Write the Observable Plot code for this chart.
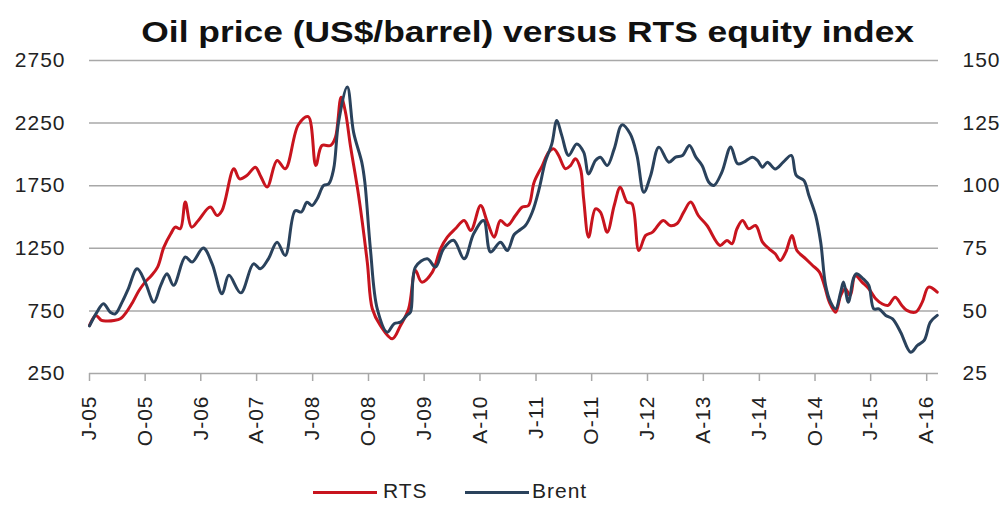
<!DOCTYPE html>
<html>
<head>
<meta charset="utf-8">
<script src="https://cdn.jsdelivr.net/npm/d3@7"></script>
<script src="https://cdn.jsdelivr.net/npm/@observablehq/plot@0.6"></script>
<style>
  body { margin: 0; background: #fff; width: 1004px; font-family: "Liberation Sans", Arial, sans-serif; position: relative; }
  #spacer { height: 38px; }
  #title { position: absolute; left: 52px; top: 11px; width: 952px; line-height: 43px; text-align: center; white-space: nowrap; }
  #title span { display: inline-block; font-weight: bold; font-size: 29px; color: #111; transform: scaleX(1.22); transform-origin: center; }
  #legend { position: relative; height: 56px; font-size: 21px; color: #222; letter-spacing: 1px; }
  .sw { position: absolute; top: 41px; width: 64px; height: 3px; }
  .lb { position: absolute; top: 29px; line-height: 24px; }
</style>
</head>
<body>
<div id="spacer"></div>
<div id="chart"></div>
<div id="legend">
  <div class="sw" style="left:313px;background:#c8141e"></div><div class="lb" style="left:383px">RTS</div>
  <div class="sw" style="left:465px;background:#2a425c"></div><div class="lb" style="left:532px">Brent</div>
</div>
<div id="title"><span>Oil price (US$/barrel) versus RTS equity index</span></div>
<script>
// Months since January 2005 and values
const rtsMonth = [0,1,2,3,4,5,6,7,8,9,10,11,12,13.1,13.9,14.7,15.5,16.5,17.6,19.5,20.6,21.4,23.3,24.2,25.4,26.8,27.6,28.7,30.3,31.6,33.7,35.3,36.5,37.5,38.9,39.7,40.6,41.3,42.1,43.4,44.8,45.6,46.9,48.8,50.2,51.5,52.6,53.6,55.3,56.6,57.7,59.0,60.4,61.5,63.1,64.2,65.3,66.3,67.4,68.7,69.8,70.8,71.7,73.0,74.1,74.9,75.7,76.8,77.6,78.4,79.2,79.7,80.5,81.6,82.4,83.5,84.6,85.6,86.7,87.5,88.6,89.7,90.8,92.5,93.6,94.7,95.8,96.9,98.2,99.6,101.7,102.8,103.6,104.4,105.3,106.3,107.4,108.5,109.6,110.6,111.4,112.3,113.3,114.1,115.5,116.6,117.7,118.5,119.3,120.3,121.1,121.9,122.7,123.5,124.6,125.7,126.8,127.8,128.8,129.9,131.0,131.8,133.2,134.3,135.3,136.7];
const rtsValue = [634,714,674,670,674,687,740,820,913,980,1033,1100,1259,1366,1419,1406,1619,1419,1472,1579,1512,1552,1885,1805,1832,1898,1832,1739,1952,1885,2237,2301,1911,2071,2071,2137,2457,2337,2071,1672,1140,767,634,527,634,767,1073,980,1060,1246,1339,1406,1472,1392,1592,1459,1339,1472,1432,1512,1579,1592,1778,1911,2018,2044,1991,1885,1911,1965,1885,1645,1339,1565,1539,1379,1592,1738,1619,1605,1233,1353,1379,1472,1432,1446,1539,1619,1512,1432,1273,1313,1286,1406,1472,1406,1432,1299,1246,1206,1153,1219,1353,1233,1166,1113,1060,953,820,740,873,927,873,1033,980,927,847,807,794,860,794,754,740,820,940,900];

const brentMonth = [0,1.2,2.3,3.4,4.2,5.3,6.3,7.7,9.0,10.4,11.5,12.5,13.6,15.5,16.6,18.4,19.8,21.4,22.5,24.4,26.5,27.6,28.9,30.3,31.6,33.2,34.2,35.1,35.9,36.7,37.8,38.6,39.4,40.2,41.6,42.6,43.9,44.4,45.3,46.4,48.0,49.1,50.2,51.2,51.8,52.6,54.5,55.8,57.1,58.7,60.4,62.0,63.6,64.7,66.3,67.4,68.5,69.5,70.3,71.4,72.5,73.5,74.6,75.4,76.2,77.3,78.6,79.7,80.5,81.6,82.4,83.5,84.6,85.9,87.2,88.3,89.4,90.5,91.8,93.4,94.5,95.6,96.7,97.8,98.8,99.9,100.7,102.0,103.4,104.5,105.5,106.9,107.7,108.5,109.3,110.6,111.9,113.2,114.0,115.2,116.0,117.1,117.9,118.7,119.5,120.3,121.1,121.6,122.4,123.2,123.7,124.8,125.7,126.5,127.3,128.4,129.5,130.8,132.4,133.5,134.6,135.6,136.7];
const brentValue = [44,49.5,52.9,49.5,48.8,53.5,58.8,66.8,61.5,53.5,60.2,64.8,60.2,71.5,69.5,75.1,68.8,56.8,64.2,57.2,68.8,66.8,70.8,77.4,72.1,90,89.5,93.4,92.1,94.7,100.1,100.7,106.7,125.4,139.4,121.4,109.4,101.4,74.8,50.8,41.5,44.9,45.5,48.2,49.5,67.5,70.8,67.5,74.8,78.2,70.8,80.8,86.1,73.5,77.4,74.1,80.5,82.5,84.1,89.4,98.8,109.4,116.7,126.0,120.1,112.1,116.7,113.4,104.7,110.1,111.4,108.1,114.7,124.3,120.7,112.1,97.4,104.1,115.4,109.4,111.4,112.1,116.1,111.4,108.1,101.4,100.1,105.4,115.5,108.8,109.4,111.4,110.1,107.4,109.4,106.7,109.4,112.1,104.1,102.1,96.1,88.1,77.4,60.2,53.5,50.8,57.5,61.5,53.5,62.8,64.8,62.8,60.2,50.8,50.8,48.2,46.8,41.5,33.5,36.2,38.2,45.5,48.2];

const rtsTicks = [250, 750, 1250, 1750, 2250, 2750];
const brentTicks = [25, 50, 75, 100, 125, 150];
const xTickMonths = ["2005-01","2005-10","2006-07","2007-04","2008-01","2008-10","2009-07","2010-04","2011-01","2011-10","2012-07","2013-04","2014-01","2014-10","2015-07","2016-04"];
const xTickLabels = ["J-05","O-05","J-06","A-07","J-08","O-08","J-09","A-10","J-11","O-11","J-12","A-13","J-14","O-14","J-15","A-16"];

const base = new Date(Date.UTC(2005, 0, 1));
function toDate(m) {
  const f = Math.floor(m);
  const a = d3.utcMonth.offset(base, f);
  const b = d3.utcMonth.offset(base, f + 1);
  return new Date(+a + (m - f) * (b - a));
}
// Brent (right axis 25..150) mapped onto the RTS scale (left axis 250..2750)
const b2r = v => 250 + (v - 25) * (2500 / 125);

const rts = rtsMonth.map((m, i) => ({date: toDate(m), value: rtsValue[i]}));
const brent = brentMonth.map((m, i) => ({date: toDate(m), value: brentValue[i]}));
const tickDates = xTickMonths.map(s => d3.utcParse("%Y-%m")(s));
const labelMap = new Map(tickDates.map((d, i) => [+d, xTickLabels[i]]));

const chart = Plot.plot({
  width: 1004,
  height: 412,
  marginTop: 22,
  marginBottom: 77,
  marginLeft: 89,
  marginRight: 66,
  style: {fontFamily: "'Liberation Sans', Arial, sans-serif", fontSize: "21px", color: "#222", background: "white", letterSpacing: "1px"},
  x: {type: "utc", domain: [toDate(0), toDate(136.9)]},
  y: {domain: [250, 2750]},
  marks: [
    Plot.ruleY(rtsTicks, {stroke: "#a8a8a8", strokeWidth: 1.5}),
    Plot.axisY({anchor: "left", ticks: rtsTicks, tickSize: 0, tickPadding: 24, label: null, tickFormat: d => String(d)}),
    Plot.axisY({anchor: "right", ticks: brentTicks.map(b2r), tickSize: 0, tickPadding: 24, label: null,
      tickFormat: d => String(brentTicks[brentTicks.map(b2r).indexOf(d)])}),
    Plot.axisX({ticks: tickDates, tickFormat: d => labelMap.get(+d), tickRotate: -90, tickSize: 8, tickPadding: 14,
      label: null, stroke: "#a8a8a8", strokeWidth: 1.5, fill: "#222"}),
    Plot.lineY(rts, {x: "date", y: "value", stroke: "#c8141e", strokeWidth: 3, curve: "catmull-rom"}),
    Plot.lineY(brent, {x: "date", y: d => b2r(d.value), stroke: "#2a425c", strokeWidth: 3, curve: "catmull-rom"})
  ]
});
document.getElementById("chart").appendChild(chart);
</script>
</body>
</html>
